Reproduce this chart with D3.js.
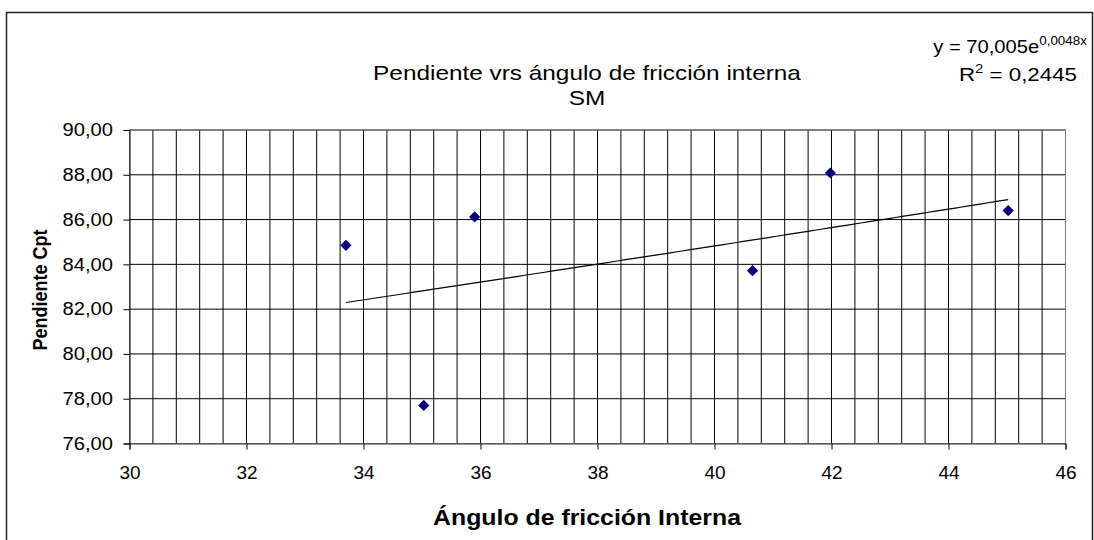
<!DOCTYPE html>
<html>
<head>
<meta charset="utf-8">
<script src="https://cdn.jsdelivr.net/npm/d3@7"></script>
<style>
  html, body { margin: 0; padding: 0; background: #fff; }
  svg { display: block; font-family: "Liberation Sans", Arial, sans-serif; }
</style>
</head>
<body>
<svg id="chart" width="1094" height="540"></svg>
<script>
// Measured samples: friction angle (degrees) vs CPT slope
const angulo    = [33.7, 35.03, 35.9, 40.65, 41.98, 45.02];
const pendiente = [84.85, 77.7, 86.12, 83.72, 88.08, 86.4];

// Exponential trendline  y = a·e^(b·x)
const trendA = 70.005;
const trendB = 0.0048;
const r2Text = "0,2445";

const xTicks = [30, 32, 34, 36, 38, 40, 42, 44, 46];
const yTicks = [76, 78, 80, 82, 84, 86, 88, 90];
const xMinorStep = 0.4;

const titleLines = ["Pendiente vrs ángulo de fricción interna", "SM"];
const xTitle = "Ángulo de fricción Interna";
const yTitle = "Pendiente Cpt";

const svg = d3.select("#chart");
const plot = { left: 129.5, right: 1065.5, top: 130, bottom: 443.5 };

const x = d3.scaleLinear().domain([30, 46]).range([plot.left, plot.right]);
const y = d3.scaleLinear().domain([76, 90]).range([plot.bottom, plot.top]);
const fmtComma = v => d3.format(".2f")(v).replace(".", ",");

// text placed at (px, py) and widened horizontally by sx
function wideText(parent, px, py, sx) {
  return parent.append("text")
    .attr("transform", `translate(${px},${py}) scale(${sx},1)`);
}

// outer chart frame
svg.append("rect")
  .attr("x", 6.5).attr("y", 12.5)
  .attr("width", 1086).attr("height", 540)
  .attr("fill", "#fff").attr("stroke", "#222").attr("stroke-width", 1.5);

// vertical gridlines every 0.4
const xGrid = d3.range(0, 41).map(i => 30 + i * xMinorStep);
svg.append("g").selectAll("line").data(xGrid).join("line")
  .attr("x1", d => x(d)).attr("x2", d => x(d))
  .attr("y1", plot.top).attr("y2", plot.bottom)
  .attr("stroke", "#000").attr("stroke-width", 1);

// horizontal gridlines
svg.append("g").selectAll("line").data(yTicks).join("line")
  .attr("x1", plot.left).attr("x2", plot.right)
  .attr("y1", d => y(d)).attr("y2", d => y(d))
  .attr("stroke", "#000").attr("stroke-width", 1);

// plot area border
svg.append("rect")
  .attr("x", plot.left).attr("y", plot.top)
  .attr("width", plot.right - plot.left).attr("height", plot.bottom - plot.top)
  .attr("fill", "none").attr("stroke", "#808080").attr("stroke-width", 1);

// x axis
const xAxis = d3.axisBottom(x).tickValues(xTicks).tickSize(6).tickPadding(16)
  .tickFormat(d3.format("d"));
const gx = svg.append("g").attr("transform", `translate(0,${plot.bottom})`).call(xAxis);
gx.select(".domain").attr("stroke", "#333");
gx.selectAll(".tick line").attr("stroke", "#000");
gx.selectAll("text").attr("font-size", 19).attr("fill", "#000")
  .attr("font-family", "Liberation Sans, Arial, sans-serif");

// y axis (labels slightly widened)
const ySx = 1.12;
const yAxis = d3.axisLeft(y).tickValues(yTicks).tickSize(6).tickPadding(10)
  .tickFormat(fmtComma);
const gy = svg.append("g").attr("transform", `translate(${plot.left},0)`).call(yAxis);
gy.select(".domain").attr("stroke", "#000");
gy.selectAll(".tick line").attr("stroke", "#000");
gy.selectAll("text").attr("font-size", 18).attr("fill", "#000")
  .attr("font-family", "Liberation Sans, Arial, sans-serif")
  .attr("x", -16.5 / ySx)
  .attr("transform", `scale(${ySx},1)`);

// trendline over the data range
const xs = d3.range(0, 101).map(i => d3.min(angulo) + i * (d3.max(angulo) - d3.min(angulo)) / 100);
const line = d3.line().x(d => x(d)).y(d => y(trendA * Math.exp(trendB * d)));
svg.append("path").datum(xs)
  .attr("d", line).attr("fill", "none")
  .attr("stroke", "#000").attr("stroke-width", 1.2);

// data markers (diamonds)
const diamond = d3.symbol().type(d3.symbolDiamond2).size(80);
svg.append("g").selectAll("path").data(angulo.map((a, i) => [a, pendiente[i]])).join("path")
  .attr("d", diamond)
  .attr("transform", d => `translate(${x(d[0])},${y(d[1])})`)
  .attr("fill", "#000080");

// title
wideText(svg, 587, 80, 1.16).attr("text-anchor", "middle").attr("font-size", 21)
  .text(titleLines[0]);
wideText(svg, 587, 105, 1.16).attr("text-anchor", "middle").attr("font-size", 21)
  .text(titleLines[1]);

// trendline equation
const eq = wideText(svg, 1087, 53, 1.12).attr("text-anchor", "end").attr("font-size", 18);
eq.append("tspan").text("y = " + String(trendA).replace(".", ",").padEnd(6, "0") + "e");
eq.append("tspan").attr("font-size", 12).attr("dy", -8)
  .text(String(trendB).replace(".", ",") + "x");
const r2 = wideText(svg, 1077, 81, 1.24).attr("text-anchor", "end").attr("font-size", 18);
r2.append("tspan").text("R");
r2.append("tspan").attr("font-size", 12).attr("dy", -8).text("2");
r2.append("tspan").attr("dy", 8).text(" = " + r2Text);

// axis titles
wideText(svg, 587, 525, 1.13).attr("text-anchor", "middle").attr("font-size", 22)
  .attr("font-weight", "bold").text(xTitle);
svg.append("text")
  .attr("transform", `translate(47,${290}) rotate(-90) scale(1,1.15)`)
  .attr("text-anchor", "middle").attr("font-size", 18).attr("font-weight", "bold")
  .text(yTitle);
</script>
</body>
</html>
